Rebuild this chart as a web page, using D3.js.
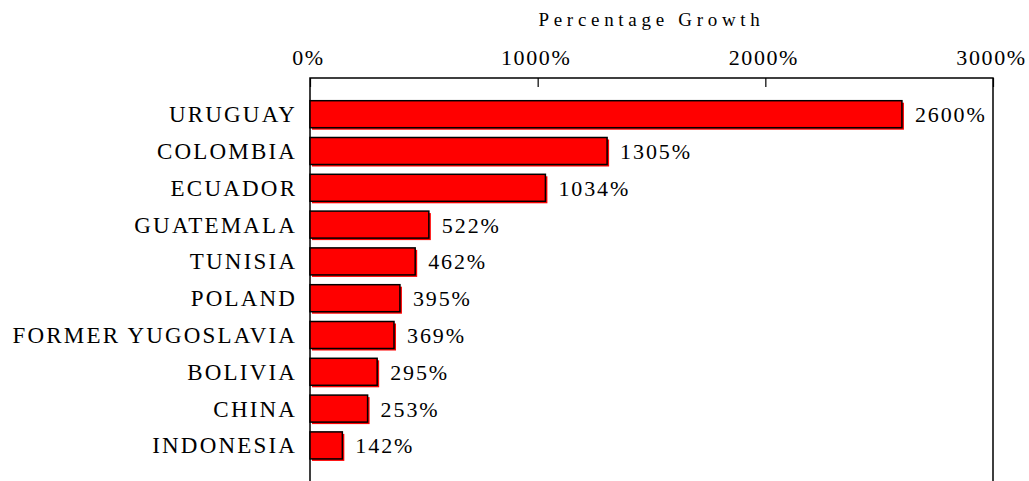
<!DOCTYPE html>
<html>
<head>
<meta charset="utf-8">
<script src="https://cdn.jsdelivr.net/npm/d3@7"></script>
<style>
  body { margin: 0; background: #fff; }
  svg { display: block; font-family: "Liberation Serif", "Times New Roman", serif; }
</style>
</head>
<body>
<div id="viz"></div>
<script>
const width = 1029;
const height = 481;

const countries = ['URUGUAY', 'COLOMBIA', 'ECUADOR', 'GUATEMALA', 'TUNISIA', 'POLAND',
  'FORMER YUGOSLAVIA', 'BOLIVIA', 'CHINA', 'INDONESIA'];
const growth = [2600, 1305, 1034, 522, 462, 395, 369, 295, 253, 142];
const ticks = [0, 1000, 2000, 3000];

const plotLeft = 310, plotRight = 993, plotTop = 78;
const fontSize = 22;
const spacing = 1.6;
const labelSpacing = 2.2;

const data = countries.map((c, i) => ({ name: c, value: growth[i] }));

const x = d3.scaleLinear().domain([0, 3000]).range([plotLeft, plotRight]);
const y = d3.scaleBand()
  .domain(countries)
  .range([95.8, 463.8])
  .paddingInner(0.266)
  .paddingOuter(0.133);

const svg = d3.select('#viz').append('svg')
  .attr('width', width)
  .attr('height', height);

// frame: top, left, right (bottom falls off the picture)
svg.append('path')
  .attr('fill', 'none')
  .attr('stroke', '#000')
  .attr('stroke-width', 1.5)
  .attr('d', `M${plotLeft},${height}V${plotTop}H${plotRight}V${height}`);

// top axis
const axis = svg.append('g')
  .attr('transform', `translate(0,${plotTop})`)
  .call(d3.axisTop(x).tickValues(ticks).tickSize(-9).tickFormat(d => d + '%'));
axis.select('.domain').remove();
axis.selectAll('line').attr('stroke', '#000').attr('stroke-width', 1.2);
axis.selectAll('text')
  .attr('y', -13)
  .attr('dy', 0)
  .attr('dx', -2)
  .attr('font-size', fontSize)
  .attr('letter-spacing', spacing)
  .attr('font-family', '"Liberation Serif", serif')
  .attr('fill', '#000');

svg.append('text')
  .attr('x', (plotLeft + plotRight) / 2)
  .attr('y', 26)
  .attr('text-anchor', 'middle')
  .attr('font-size', 19)
  .attr('letter-spacing', 4.7)
  .text('Percentage Growth');

const bars = svg.append('g')
  .selectAll('g')
  .data(data)
  .join('g');

// red offset shadow
bars.append('rect')
  .attr('x', x(0) + 2)
  .attr('y', d => y(d.name) + 2)
  .attr('width', d => x(d.value) - x(0))
  .attr('height', y.bandwidth())
  .attr('fill', '#ff0000');

bars.append('rect')
  .attr('x', x(0))
  .attr('y', d => y(d.name))
  .attr('width', d => x(d.value) - x(0))
  .attr('height', y.bandwidth())
  .attr('fill', '#ff0000')
  .attr('stroke', '#000')
  .attr('stroke-width', 1.5);

bars.append('text')
  .attr('x', d => x(d.value) + 13)
  .attr('y', d => y(d.name) + y.bandwidth() / 2)
  .attr('dy', 8)
  .attr('font-size', fontSize)
  .attr('letter-spacing', 1.9)
  .text(d => d.value + '%');

svg.append('g')
  .selectAll('text')
  .data(data)
  .join('text')
  .attr('x', 295 + labelSpacing)
  .attr('y', d => y(d.name) + y.bandwidth() / 2)
  .attr('dy', 8)
  .attr('text-anchor', 'end')
  .attr('font-size', 23)
  .attr('letter-spacing', labelSpacing)
  .text(d => d.name);
</script>
</body>
</html>
